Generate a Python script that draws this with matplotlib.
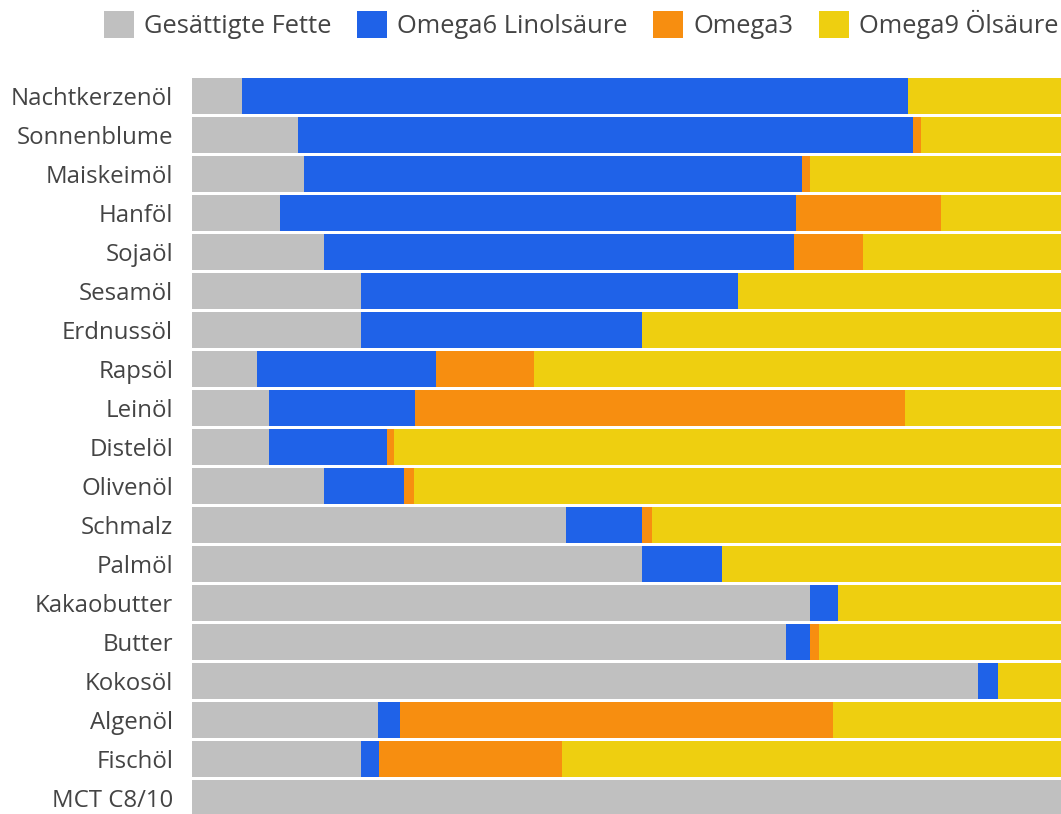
import numpy as np
import matplotlib
matplotlib.use("Agg")
import matplotlib.pyplot as plt

plt.rcParams['font.family'] = ['Open Sans', 'DejaVu Sans']

oele = ["Nachtkerzenöl", "Sonnenblume", "Maiskeimöl", "Hanföl", "Sojaöl",
        "Sesamöl", "Erdnussöl", "Rapsöl", "Leinöl", "Distelöl", "Olivenöl",
        "Schmalz", "Palmöl", "Kakaobutter", "Butter", "Kokosöl", "Algenöl",
        "Fischöl", "MCT C8/10"]

# Anteile in %
gesaettigt = [5.8, 12.2, 12.9, 10.1, 15.2, 19.4, 19.4, 7.5, 8.9, 8.9, 15.2,
              43.0, 51.8, 71.1, 68.4, 90.4, 21.4, 19.4, 100.0]
omega6 = [76.6, 70.8, 57.3, 59.4, 54.1, 43.4, 32.4, 20.6, 16.8, 13.5, 9.2,
          8.8, 9.2, 3.2, 2.7, 2.4, 2.5, 2.1, 0.0]
omega3 = [0.0, 0.9, 0.9, 16.7, 7.9, 0.0, 0.0, 11.3, 56.3, 0.8, 1.1,
          1.1, 0.0, 0.0, 1.1, 0.0, 49.9, 21.1, 0.0]

serien = ["Gesättigte Fette", "Omega6 Linolsäure", "Omega3", "Omega9 Ölsäure"]
farben = ["#c0c0c0", "#1f62e8", "#f78e10", "#eecf10"]

g = np.array(gesaettigt)
o6 = np.array(omega6)
o3 = np.array(omega3)
o9 = 100 - g - o6 - o3

fig = plt.figure(figsize=(10.61, 8.14), dpi=100)
ax = fig.add_axes([192/1061, 0, 1 - 192/1061, 1 - 76.5/814])

y = np.arange(len(oele))
left = np.zeros(len(oele))
for werte, name, farbe in zip([g, o6, o3, o9], serien, farben):
    ax.barh(y, werte, left=left, height=0.9, color=farbe, label=name)
    left = left + werte

ax.set_xlim(0, 100)
ax.set_ylim(18.41, -0.5)
ax.set_yticks(y)
ax.set_yticklabels(oele, fontsize=17.3, color="#444444")
ax.tick_params(axis="y", length=0, pad=13.5)
ax.set_xticks([])
for s in ax.spines.values():
    s.set_visible(False)

fig.legend(loc="center", bbox_to_anchor=(0.5476, 1 - 24.5/814), ncol=4,
           frameon=False, fontsize=18.4, handlelength=1.17, handleheight=1.28,
           handletextpad=0.4, columnspacing=1.0, labelcolor="#444444")

fig.savefig("out.png", dpi=100)
